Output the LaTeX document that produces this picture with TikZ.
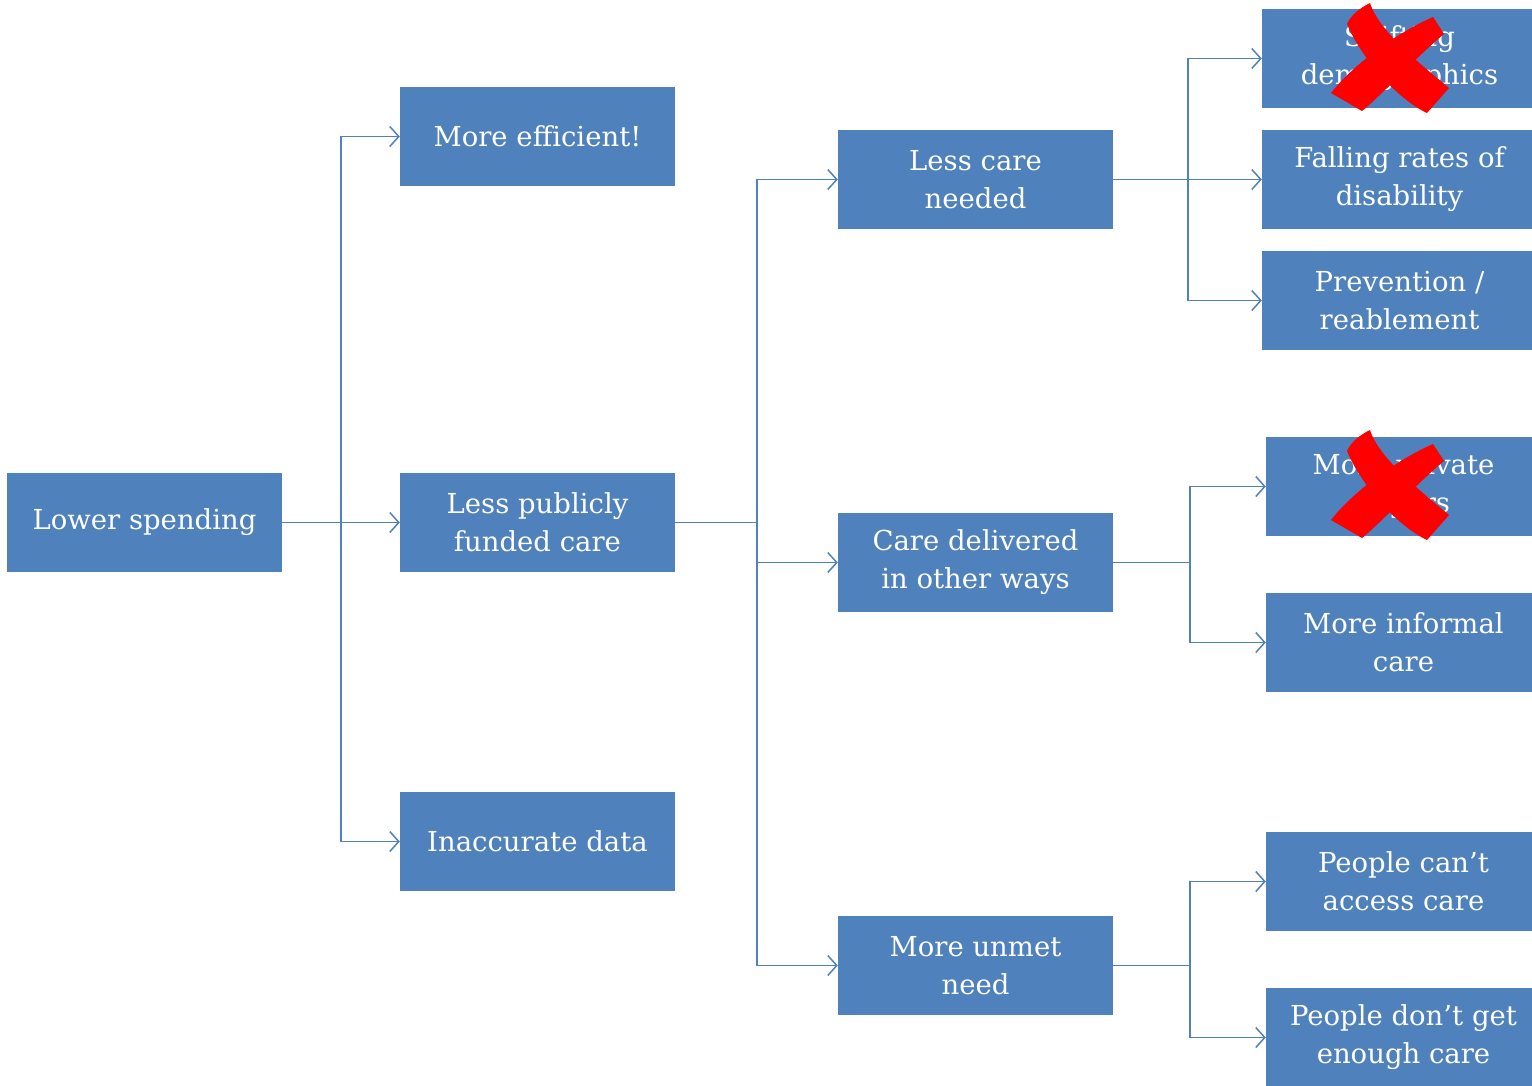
\documentclass[tikz,border=0pt]{standalone}
\usepackage{fontspec}
\setmainfont{DejaVu Serif}
\usetikzlibrary{arrows.meta}
\definecolor{boxblue}{HTML}{4F81BD}
\tikzset{
  box/.style={fill=boxblue, text=white, minimum width=275pt, minimum height=99pt,
    inner sep=0pt, align=center, font=\fontsize{27.5}{38}\selectfont},
  arr/.style={boxblue, line width=1.5pt, -{Straight Barb[length=9pt,width=20pt,line width=1.5pt]}},
  nix/.style={fill=red}
}
% red brush cross, centred on #1
\newcommand{\brushx}[1]{%
  \begin{scope}[shift={#1}]
    \fill[nix] (-40,-36) .. controls (-28,-6) and (8,38) .. (40,53)
      -- (62,28) .. controls (36,6) and (-8,-28) .. (-17,-57)
      .. controls (-27,-52) and (-36,-45) .. cycle;
    \fill[nix] (46,-43) .. controls (16,-30) and (-30,0) .. (-56,33)
      -- (-25,51) .. controls (-4,34) and (28,-2) .. (57,-26) -- cycle;
  \end{scope}}
\begin{document}
\begin{tikzpicture}[x=1pt, y=-1pt]
    \useasboundingbox (0,0) rectangle (1532,1085);
    \clip (0,0) rectangle (1532,1085);

    % level 0 and 1
    \node[box] (lower) at (144.5,522.5) {Lower spending};
    \node[box] (eff)   at (537.5,136.5) {More efficient!};
    \node[box] (pub)   at (537.5,522.5) {Less publicly\\funded care};
    \node[box] (data)  at (537.5,841.5) {Inaccurate data};

    % level 2
    \node[box] (less)  at (975.5,179.5) {Less care\\needed};
    \node[box] (other) at (975.5,562.5) {Care delivered\\in other ways};
    \node[box] (unmet) at (975.5,965.5) {More unmet\\need};

    % level 3
    \node[box] (demo)  at (1399.5,58.5)  {Shifting\\demographics};
    \node[box] (fall)  at (1399.5,179.5) {Falling rates of\\disability};
    \node[box] (prev)  at (1399.5,300.5) {Prevention /\\reablement};
    \node[box] (priv)  at (1403.5,486.5) {More private\\payers};
    \node[box] (infml) at (1403.5,642.5) {More informal\\care};
    \node[box] (cant)  at (1403.5,881.5) {People can’t\\access care};
    \node[box] (dont)  at (1403.5,1037.5) {People don’t get\\enough care};

    % connectors
    \foreach \t in {eff,pub,data}
      \draw[arr] (lower.east) -- ++(59,0) |- (\t.west);
    \foreach \t in {less,other,unmet}
      \draw[arr] (pub.east) -- ++(82,0) |- (\t.west);
    \foreach \t in {demo,fall,prev}
      \draw[arr] (less.east) -- ++(75,0) |- (\t.west);
    \foreach \t in {priv,infml}
      \draw[arr] (other.east) -- ++(77,0) |- (\t.west);
    \foreach \t in {cant,dont}
      \draw[arr] (unmet.east) -- ++(77,0) |- (\t.west);

    % crossed out
    \brushx{(1387,60)}
    \brushx{(1387,487)}
\end{tikzpicture}
\end{document}
